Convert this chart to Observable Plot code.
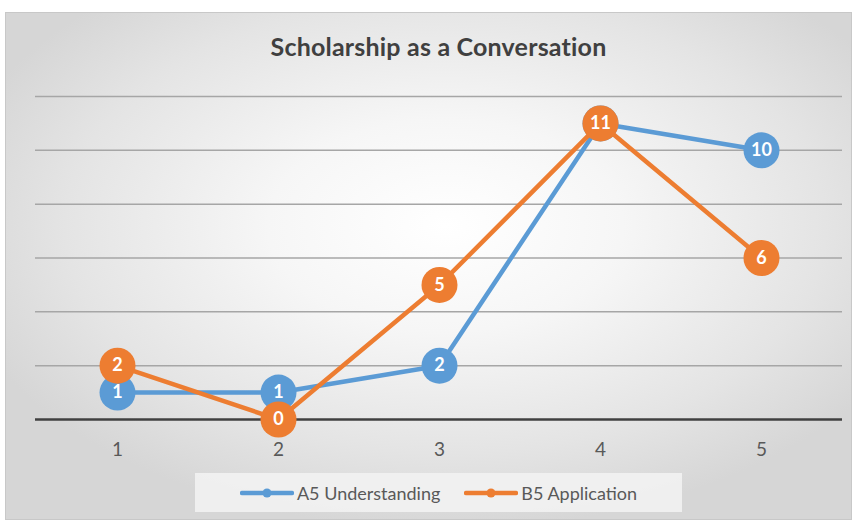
<!DOCTYPE html>
<html>
<head>
<meta charset="utf-8">
<script src="https://cdn.jsdelivr.net/npm/d3@7"></script>
<script src="https://cdn.jsdelivr.net/npm/@observablehq/plot@0.6"></script>
<style>
  html, body { margin: 0; padding: 0; background: #ffffff; }
  body { width: 856px; height: 525px; position: relative; overflow: hidden; font-family: Lato, "Open Sans", sans-serif; }
  #frame {
    position: absolute; left: 5px; top: 12px; width: 845px; height: 506px;
    border: 1px solid #c8c8c8;
    background: radial-gradient(ellipse 60% 60% at 52% 42%, #ffffff 0%, #f6f6f6 35%, #e4e4e4 75%, #d6d6d6 100%);
  }
  #title {
    position: absolute; left: 0; top: 31px; width: 877px; text-align: center;
    font-size: 25px; font-weight: 700; color: #404040; letter-spacing: 0.2px;
  }
  #chart { position: absolute; left: 0; top: 70px; }
  #legend {
    position: absolute; left: 195px; top: 473px; width: 487px; height: 39px;
    background: rgba(242,242,242,0.9);
    display: flex; align-items: center; justify-content: center; gap: 24px;
    font-size: 18px; color: #595959;
  }
  .item { display: flex; align-items: center; gap: 3px; }
</style>
</head>
<body>
<div id="frame"></div>
<div id="title">Scholarship as a Conversation</div>
<div id="chart"></div>
<div id="legend"></div>
<script>
const categories = [1, 2, 3, 4, 5];
const tickLabels = ["1", "2", "3", "4", "5"];
const seriesNames = ["A5 Understanding", "B5 Application"];
const a5Understanding = [1, 1, 2, 11, 10];
const b5Application = [2, 0, 5, 11, 6];
const gridTicks = [2, 4, 6, 8, 10, 12];
const colors = ["#5B9BD5", "#ED7D31"];

const seriesValues = [a5Understanding, b5Application];
const rows = seriesNames.map((name, i) =>
  categories.map((c, j) => ({ series: name, x: c, y: seriesValues[i][j] }))
);

const marks = [
  Plot.ruleY(gridTicks, { stroke: "#a6a6a6", strokeWidth: 1.5 }),
  Plot.ruleY([0], { stroke: "#404040", strokeWidth: 2.5 }),
  Plot.text(categories, { x: d => d, y: () => 0, text: (d, i) => tickLabels[i], dy: 30, fontSize: 19, fill: "#595959" })
];
rows.forEach((data, i) => {
  marks.push(Plot.line(data, { x: "x", y: "y", stroke: colors[i], strokeWidth: 4.5, strokeLinejoin: "round" }));
  marks.push(Plot.dot(data, { x: "x", y: "y", r: 18, fill: colors[i], stroke: "none" }));
  marks.push(Plot.text(data, { x: "x", y: "y", text: d => String(d.y), fill: "white", fontSize: 18, fontWeight: "bold" }));
});

const chart = Plot.plot({
  width: 856,
  height: 395,
  marginLeft: 35,
  marginRight: 14,
  marginTop: 26,
  marginBottom: 46,
  style: { background: "transparent", overflow: "visible", fontFamily: "Lato, 'Open Sans', sans-serif" },
  x: { type: "point", domain: categories, padding: 0.5, axis: null },
  y: { domain: [0, 12], axis: null },
  marks
});
document.getElementById("chart").appendChild(chart);

const legend = document.getElementById("legend");
seriesNames.forEach((name, i) => {
  const item = document.createElement("div");
  item.className = "item";
  item.innerHTML = `<svg width="54" height="12"><line x1="2" y1="6" x2="52" y2="6" stroke="${colors[i]}" stroke-width="4.5" stroke-linecap="round"/><circle cx="27" cy="6" r="4.5" fill="${colors[i]}"/></svg><span>${name}</span>`;
  legend.appendChild(item);
});
</script>
</body>
</html>
